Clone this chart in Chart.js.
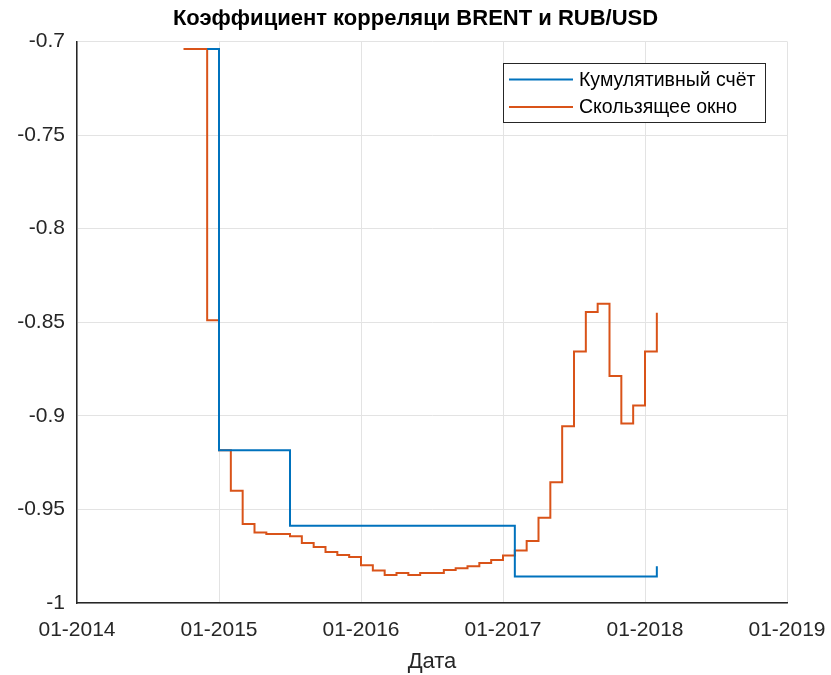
<!DOCTYPE html>
<html>
<head>
<meta charset="utf-8">
<script src="https://cdn.jsdelivr.net/npm/chart.js@4"></script>
<style>
  body { margin: 0; background: #fff; }
</style>
</head>
<body>
<canvas id="chart" width="831" height="675"></canvas>
<script>
// months where the value changes, and the new value (held until the next change)
var cumMonths = ['2014-12', '2015-01', '2015-07', '2017-02', '2018-02'];
var cumValues = [-0.704, -0.9184, -0.9587, -0.9858, -0.9804];

var winMonths = ['2014-10', '2014-12', '2015-01', '2015-02', '2015-03', '2015-04', '2015-05',
    '2015-07', '2015-08', '2015-09', '2015-10', '2015-11', '2015-12',
    '2016-01', '2016-02', '2016-03', '2016-04', '2016-05', '2016-06', '2016-08',
    '2016-09', '2016-10', '2016-11', '2016-12',
    '2017-01', '2017-02', '2017-03', '2017-04', '2017-05', '2017-06', '2017-07',
    '2017-08', '2017-09', '2017-10', '2017-11', '2017-12', '2018-01', '2018-02'];
var winValues = [-0.704, -0.849, -0.9184, -0.9401, -0.9578, -0.9623, -0.9631,
    -0.9644, -0.968, -0.9701, -0.9727, -0.9744, -0.9754,
    -0.9799, -0.9827, -0.985, -0.984, -0.985, -0.984, -0.9824,
    -0.9815, -0.9804, -0.9786, -0.977,
    -0.9746, -0.9719, -0.9669, -0.9544, -0.9355, -0.9056, -0.8656,
    -0.8446, -0.8401, -0.8788, -0.9041, -0.8945, -0.8656, -0.8449];

var yearTicks = [2014, 2015, 2016, 2017, 2018, 2019];

function toYear(m) {
    var p = m.split('-');
    return parseInt(p[0]) + (parseInt(p[1]) - 1) / 12;
}

function points(months, values) {
    var out = [];
    for (var i = 0; i < months.length; i++) {
        out.push({ x: toYear(months[i]), y: values[i] });
    }
    return out;
}

var txt = '#262626';
var gridCol = '#e3e3e3';
var fam = '"Liberation Sans", Arial, sans-serif';

// legend drawn inside the plot, top right
var boxLegend = {
    id: 'boxLegend',
    afterDraw: function(chart) {
        var ctx = chart.ctx;
        var x0 = 503.5, y0 = 63.5, w = 262, h = 59;
        ctx.save();
        ctx.fillStyle = '#fff';
        ctx.fillRect(x0, y0, w, h);
        ctx.strokeStyle = txt;
        ctx.lineWidth = 1;
        ctx.strokeRect(x0, y0, w, h);
        ctx.font = '19.5px ' + fam;
        ctx.textBaseline = 'middle';
        chart.data.datasets.forEach(function(ds, i) {
            var ly = 79.5 + i * 27.5;
            ctx.strokeStyle = ds.borderColor;
            ctx.lineWidth = 2;
            ctx.beginPath();
            ctx.moveTo(509, ly);
            ctx.lineTo(573, ly);
            ctx.stroke();
            ctx.fillStyle = '#000';
            ctx.fillText(ds.label, 579, ly + 1);
        });
        ctx.restore();
    }
};

new Chart(document.getElementById('chart'), {
    type: 'line',
    data: {
        datasets: [{
            label: 'Кумулятивный счёт',
            data: points(cumMonths, cumValues),
            borderColor: '#0072BD',
            borderWidth: 2,
            stepped: 'before',
            pointRadius: 0,
            fill: false
        }, {
            label: 'Скользящее окно',
            data: points(winMonths, winValues),
            borderColor: '#D95319',
            borderWidth: 2,
            stepped: 'before',
            pointRadius: 0,
            fill: false
        }]
    },
    options: {
        responsive: false,
        animation: false,
        layout: { padding: 0 },
        plugins: {
            legend: { display: false },
            tooltip: { enabled: false },
            title: {
                display: true,
                text: 'Коэффициент корреляци BRENT и RUB/USD',
                color: '#000',
                font: { family: fam, size: 22, weight: 'bold' },
                padding: { top: 6, bottom: 9 }
            }
        },
        scales: {
            x: {
                type: 'linear',
                min: 2014,
                max: 2019,
                afterBuildTicks: function(scale) {
                    scale.ticks = yearTicks.map(function(v) { return { value: v }; });
                },
                afterFit: function(scale) {
                    scale.height = 72;
                    scale.paddingLeft = 0;
                    scale.paddingRight = 44;
                },
                ticks: {
                    color: txt,
                    padding: 15,
                    maxRotation: 0,
                    font: { family: fam, size: 21 },
                    callback: function(v) { return '01-' + v; }
                },
                grid: { color: gridCol, drawTicks: false },
                border: { color: txt, width: 1.5 },
                title: {
                    display: true,
                    text: 'Дата',
                    color: txt,
                    padding: { top: 2, bottom: 0 },
                    font: { family: fam, size: 22 }
                }
            },
            y: {
                min: -1,
                max: -0.7,
                afterFit: function(scale) { scale.width = 77; },
                ticks: {
                    stepSize: 0.05,
                    color: txt,
                    padding: 12,
                    font: { family: fam, size: 21 },
                    callback: function(v) { return String(Number(v.toFixed(2))); }
                },
                grid: { color: gridCol, drawTicks: false },
                border: { color: txt, width: 1.5 }
            }
        }
    },
    plugins: [boxLegend]
});
</script>
</body>
</html>
